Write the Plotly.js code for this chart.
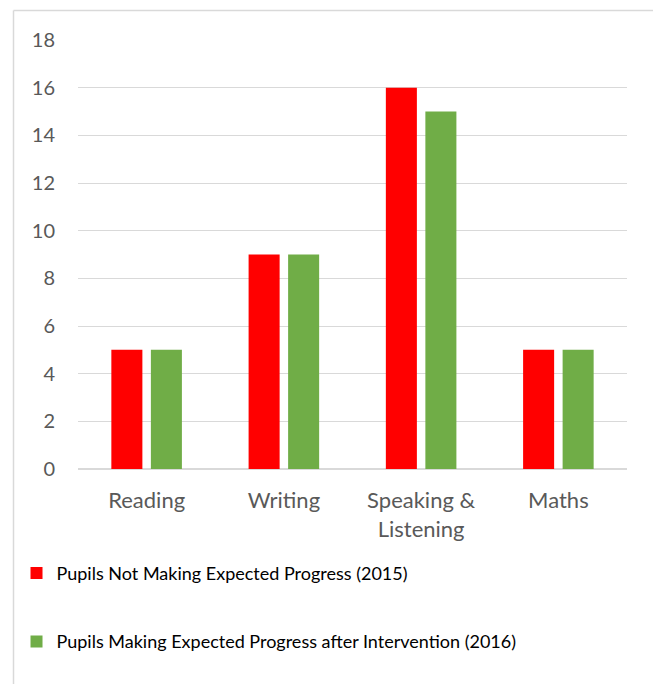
<!DOCTYPE html>
<html><head><meta charset="utf-8">
<script src="https://cdn.plot.ly/plotly-3.0.1.min.js"></script>
<style>html,body{margin:0;padding:0;background:#fff}#c{width:653px;height:684px}</style>
</head><body><div id="c"></div>
<script>
var categories = ["Reading", "Writing", "Speaking &<br>Listening", "Maths"];
var notMaking2015 = [5, 9, 16, 5];
var makingAfter2016 = [5, 9, 15, 5];
var seriesNames = ["Pupils Not Making Expected Progress (2015)", "Pupils Making Expected Progress after Intervention (2016)"];
var yTicks = [0, 2, 4, 6, 8, 10, 12, 14, 16, 18];

var data = [
  {type: "bar", x: categories, y: notMaking2015, name: seriesNames[0], legendgroup: "a",
   marker: {color: "#FF0000"}, hoverinfo: "x+y"},
  {type: "bar", x: categories, y: makingAfter2016, name: seriesNames[1], legendgroup: "b",
   marker: {color: "#70AD47"}, hoverinfo: "x+y"}
];
var layout = {
  width: 653, height: 684,
  margin: {l: 78, r: 26, t: 40, b: 215},
  paper_bgcolor: "#fff", plot_bgcolor: "#fff",
  font: {family: "Lato, 'Liberation Sans', sans-serif", color: "#595959", size: 20},
  barmode: "group", bargap: 0.424, bargroupgap: 0.215,
  showlegend: true,
  legend: {orientation: "v", x: -0.112, xanchor: "left", y: -0.2, yanchor: "top",
           traceorder: "grouped", tracegroupgap: 42,
           font: {size: 18, color: "#000"}, bgcolor: "rgba(0,0,0,0)"},
  xaxis: {type: "category", showgrid: false, zeroline: false, showline: false,
          ticks: "", ticklabelstandoff: 16, tickfont: {size: 22, color: "#595959"}},
  yaxis: {range: [0, 18], tickvals: yTicks, ticktext: yTicks.map(String),
          showgrid: true, gridcolor: "#d9d9d9", gridwidth: 1,
          zeroline: true, zerolinecolor: "#d9d9d9", zerolinewidth: 1.3,
          showline: false, ticks: "", ticklabelstandoff: 22,
          tickfont: {size: 20, color: "#595959"}},
  shapes: [
    {type: "line", xref: "paper", yref: "paper", x0: (13.5-78)/549, x1: (13.5-78)/549, y0: (469-684)/429, y1: (469-10.5)/429,
     line: {color: "#d9d9d9", width: 1.5}},
    {type: "line", xref: "paper", yref: "paper", x0: (13.5-78)/549, x1: (653-78)/549, y0: (469-10.5)/429, y1: (469-10.5)/429,
     line: {color: "#d9d9d9", width: 1.5}}
  ]
};
Plotly.newPlot("c", data, layout, {displayModeBar: false, staticPlot: true});
</script></body></html>
